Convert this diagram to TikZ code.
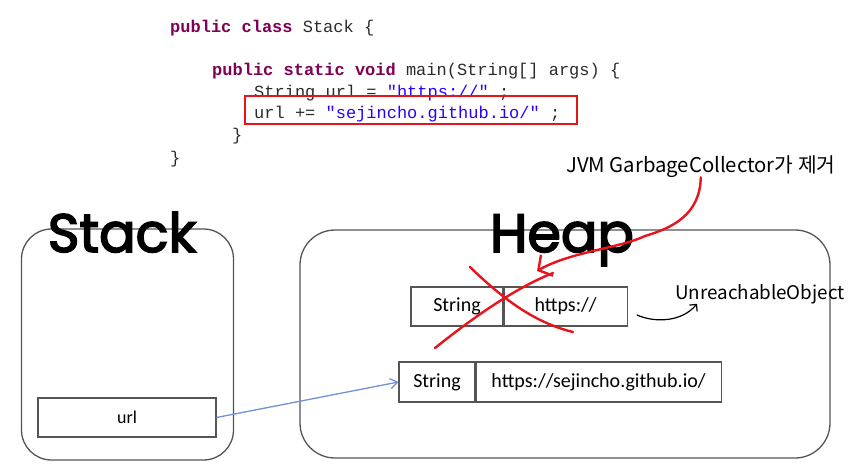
\documentclass[tikz,border=0pt]{standalone}
\usepackage{fontspec}
\usepackage{xcolor}
\setmainfont{Carlito}
\setmonofont{Liberation Mono}
\newfontfamily\titlefont[RawFeature={embolden=3}]{Poppins}
\newfontfamily\krfont{Noto Sans CJK KR}
\usetikzlibrary{arrows.meta,positioning}
\definecolor{kwpurple}{HTML}{7F0055}
\definecolor{strblue}{HTML}{2A00FF}
\definecolor{codegray}{HTML}{2B2B2B}
\definecolor{boxline}{HTML}{555555}
\definecolor{penred}{HTML}{E8141C}
\definecolor{refblue}{HTML}{6F93D8}
\newcommand{\kw}[1]{\textcolor{kwpurple}{\bfseries #1}}
\newcommand{\strlit}[1]{\textcolor{strblue}{#1}}
\tikzset{
  area/.style={
    draw=boxline,
    line width=1.3pt,
    rounded corners=30pt,
    inner sep=0pt
  },
  cell/.style={
    draw=boxline,
    line width=1.1pt,
    inner sep=0pt,
    font=\fontsize{20}{22}\selectfont
  },
  code/.style={
    anchor=base west,
    inner sep=0pt,
    text=codegray,
    font=\ttfamily\fontsize{17}{20}\selectfont
  },
  bigtitle/.style={
    anchor=base,
    inner sep=0pt,
    font=\titlefont\fontsize{54}{58}\selectfont
  },
  remark/.style={
    anchor=base west,
    inner sep=0pt,
    font=\krfont\fontsize{20.3}{22}\selectfont
  },
  pen/.style={
    draw=penred,
    line width=2.4pt,
    line cap=round,
    line join=round
  },
  ref/.style={
    -{Straight Barb[length=7pt,width=10pt]},
    line width=1.3pt,
    draw=refblue
  }
}

\begin{document}
\begin{tikzpicture}[x=1pt,y=-1pt]

\fill[white] (0,0) rectangle (862,469);
\useasboundingbox (0,0) rectangle (862,469);

% source code
\node[code] (line1) at (170,32) {\kw{public class} Stack \{};
\node[code] (line2) at (212,75) {\kw{public static void} main(String[] args) \{};
\node[code] (line3) at (254,97) {String url = \strlit{"https://"} ;};
\node[code] (line4) at (254,118) {url += \strlit{"sejincho.github.io/"} ;};
\node[code] (line5) at (232,140) {\}};
\node[code] (line6) at (170,163) {\}};
\node[draw=penred, line width=1.2pt, minimum width=332pt, minimum height=28pt, inner sep=0pt] (mark) at (411,110) {};

% stack
\node[area, minimum width=212pt, minimum height=231pt] (stack) at (127.5,344.5) {};
\node[bigtitle] (stacktitle) at (122,252) {Stack};
\node[cell, font=\fontsize{18}{20}\selectfont, minimum width=178pt, minimum height=39pt] (url) at (127,417.5) {url};

% heap
\node[area, rounded corners=35pt, minimum width=530pt, minimum height=228pt] (heap) at (565,344) {};
\node[bigtitle] (heaptitle) at (562,252) {Heap};

\node[cell, minimum width=92pt, minimum height=39pt] (oldtype) at (457,306.5) {String};
\node[cell, minimum width=123pt, minimum height=39pt, anchor=west] (oldval) at (oldtype.east) {https://};

\node[cell, minimum width=76pt, minimum height=40pt] (newtype) at (437,382) {String};
\node[cell, minimum width=245pt, minimum height=40pt, anchor=west] (newval) at (newtype.east) {https://sejincho.github.io/};

\node[remark] (gclabel) at (566,172) {JVM GarbageCollector가 제거};
\node[remark, font=\krfont\fontsize{18.8}{22}\selectfont] (unreach) at (675,299) {UnreachableObject};

\coordinate (gcend) at (537,271);
\coordinate (tailstart) at (637,315);

\draw[ref] (url.east) -- (newtype.west);

% pen marks
\draw[pen] (435,348) .. controls (480,312) and (520,286) .. (553,273);
\draw[pen] (470,267) .. controls (500,296) and (532,322) .. (573,332);
\draw[pen, -{Straight Barb[length=10pt,width=24pt]}] (gclabel.south) .. controls (700,215) and (672,228) .. (645,236)
  .. controls (620,248) and (570,252) .. (gcend);
\draw[-{Straight Barb[length=5pt,width=10pt]}, line width=1.2pt, line cap=round] (tailstart) .. controls (655,323) and (682,322) .. ([xshift=22pt]unreach.south west);

\end{tikzpicture}
\end{document}
